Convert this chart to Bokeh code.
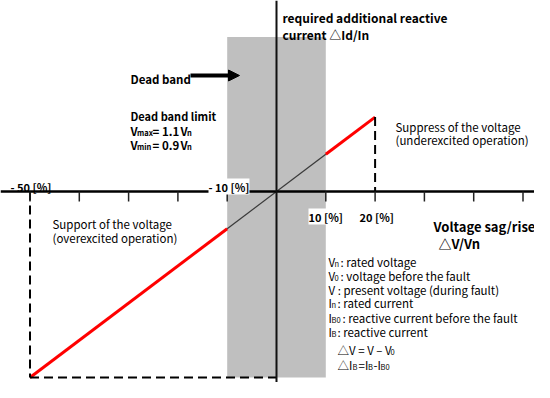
from bokeh.plotting import figure
from bokeh.models import Range1d, Label, Arrow, NormalHead
from bokeh.embed import file_html
from bokeh.resources import INLINE

# ---------------- data ----------------
x_ticks = [-50, -40, -30, -20, -10, 10, 20, 30, 40, 50]   # voltage sag/rise [%]
dead_band = [-10, 10]                                     # dead band limits [%]
curve_x = [-50, -10, 10, 20]                              # ΔV/Vn [%]
curve_y = [-100, -20, 20, 40]                             # ΔI/In [%] (k = 2)
dead_band_top = 83

# ---------------- layout ----------------
W, H = 534, 382
PX_X, PX_Y = 4.93, 1.86
X0, Y0 = 276, 191
x_start, x_end = -X0 / PX_X, (W - X0) / PX_X
y_end, y_start = Y0 / PX_Y, -(H - Y0) / PX_Y
FONT = "Noto Sans CJK KR"

p = figure(width=W, height=H, x_range=Range1d(x_start, x_end), y_range=Range1d(y_start, y_end),
           output_backend="svg", toolbar_location=None, min_border=0,
           x_axis_location=None, y_axis_location=None)
p.grid.visible = False
p.outline_line_color = None
p.background_fill_color = "white"

# dead band
p.quad(left=[dead_band[0]], right=[dead_band[1]], bottom=[curve_y[0]], top=[dead_band_top],
       fill_color="#bfbfbf", line_color=None)

# characteristic
p.line(curve_x[0:2], curve_y[0:2], line_color="#ff0000", line_width=3)
p.line(curve_x[1:3], curve_y[1:3], line_color="#3a3a3a", line_width=1.3)
p.line(curve_x[2:4], curve_y[2:4], line_color="#ff0000", line_width=3)

# dashed guides
dash = dict(line_color="black", line_width=2, line_dash="9 5")
p.line([curve_x[0], curve_x[0]], [0, curve_y[0]], **dash)
p.line([curve_x[0], 0], [curve_y[0], curve_y[0]], **dash)
p.line([curve_x[-1], curve_x[-1]], [curve_y[-1], 0], **dash)

# axes
p.segment(x0=[x_start], y0=[0], x1=[x_end], y1=[0], line_color="black", line_width=2.5)
p.segment(x0=[0], y0=[y_start], x1=[0], y1=[y_end], line_color="#111111", line_width=2)
p.segment(x0=x_ticks, y0=[0] * len(x_ticks), x1=x_ticks, y1=[-10 / PX_Y] * len(x_ticks),
          line_color="#222222", line_width=1.5)

# arrow
p.add_layout(Arrow(end=NormalHead(size=11, fill_color="black", line_color="black"),
                   x_start=190, y_start=H - 75, x_end=239, y_end=H - 75,
                   start_units="screen", end_units="screen", line_width=4, line_color="black"))


def lab(x, yb, text, fs=11.5, bold=False, **kw):
    p.add_layout(Label(x=x, y=H - yb, x_units="screen", y_units="screen", text=text,
                       text_font=FONT, text_font_size=f"{fs}px", text_baseline="alphabetic",
                       text_font_style="bold" if bold else "normal",
                       text_color="black", **kw))


def rich(yb, parts, fs=11.5, sub_fs=7.5, bold=False):
    for x, txt, sub in parts:
        if sub:
            lab(x, yb + 2, txt, sub_fs, bold)
        else:
            lab(x, yb, txt, fs, bold)


lab(282, 17, "required additional reactive", 12, True)
lab(282, 34, "current △Id/In", 12, True)
lab(130, 78, "Dead band", 11.5, True)
lab(130, 115, "Dead band limit", 11, True)
rich(130, [(130, "V", 0), (136.5, "max", 1), (152, "= 1.1", 0), (180, "V", 0), (186.5, "n", 1)], bold=True)
rich(144, [(130, "V", 0), (136.5, "min", 1), (152, "= 0.9", 0), (180, "V", 0), (186.5, "n", 1)], bold=True)
lab(10, 186, "- 50 [%]", 11, True)
lab(208, 186, "- 10 [%]", 11, True, background_fill_color="white")
lab(308, 216, "10 [%]", 11, True, background_fill_color="white")
lab(359, 216, "20 [%]", 11, True)
lab(395, 126, "Suppress of the voltage")
lab(395, 139, "(underexcited operation)")
lab(52, 223, "Support of the voltage")
lab(52, 237, "(overexcited operation)")
lab(433, 226, "Voltage sag/rise", 13, True)
lab(438, 243, "△V/Vn", 13, True)

rich(261, [(328, "V", 0), (334, "n", 1), (340, ": rated voltage", 0)])
rich(275, [(328, "V", 0), (334, "0", 1), (340, ": voltage before the fault", 0)])
lab(328, 289, "V : present voltage (during fault)")
rich(302, [(328, "I", 0), (331, "n", 1), (337, ": rated current", 0)])
rich(317, [(328, "I", 0), (331, "B0", 1), (342, ": reactive current before the fault", 0)])
rich(331, [(328, "I", 0), (331, "B", 1), (337, ": reactive current", 0)])
rich(349, [(337, "△V = V – V", 0), (390, "0", 1)])
rich(364, [(337, "△I", 0), (352, "B", 1), (358, "=I", 0), (367.5, "B", 1), (373, "-I", 0), (380, "B0", 1)])

open("out.html", "w").write(file_html(p, INLINE))
